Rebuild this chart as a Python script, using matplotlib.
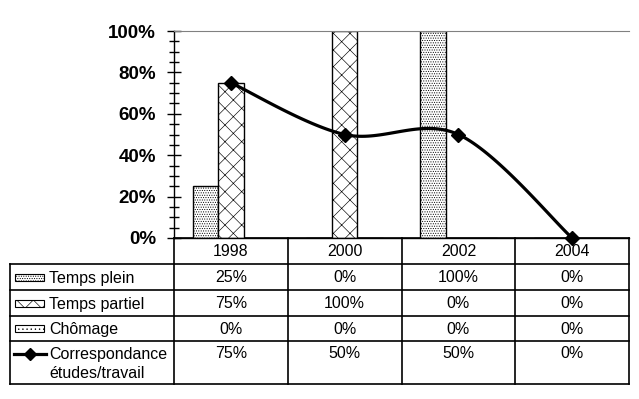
import numpy as np
import matplotlib
matplotlib.use('Agg')
import matplotlib.pyplot as plt
from matplotlib.patches import Rectangle
from matplotlib.ticker import MultipleLocator, PercentFormatter

plt.rcParams['font.family'] = ['Liberation Sans', 'DejaVu Sans']
plt.rcParams['hatch.linewidth'] = 0.45

years = ['1998', '2000', '2002', '2004']
temps_plein = [25, 0, 100, 0]
temps_partiel = [75, 100, 0, 0]
chomage = [0, 0, 0, 0]
correspondance = [75, 50, 50, 0]

series_names = ['Temps plein', 'Temps partiel', 'Chômage']
series_vals = [temps_plein, temps_partiel, chomage]
series_hatch = ['.......', 'xx', '....']
line_name = ['Correspondance', 'études/travail']

W, H = 639, 399
fig = plt.figure(figsize=(W / 100, H / 100), dpi=100)

# pixel geometry
x0, x1 = 174, 629
ytop, ybot = 31, 238
ax = fig.add_axes([x0 / W, 1 - ybot / H, (x1 - x0) / W, (ybot - ytop) / H])

n = len(years)
xs = np.arange(n)
bw = 0.224
for k, (vals, hatch) in enumerate(zip(series_vals, series_hatch)):
    ax.bar(xs + (k - 1) * bw, vals, width=bw, color='white', edgecolor='black',
           hatch=hatch, linewidth=1)

# smoothed line (bezier through the points, Excel style)
P = np.column_stack([xs, correspondance]).astype(float)
cx, cy = [], []
for i in range(n - 1):
    p0 = P[i - 1] if i > 0 else P[i]
    p1, p2 = P[i], P[i + 1]
    p3 = P[i + 2] if i + 2 < n else P[i + 1]
    c1 = p1 + (p2 - p0) / 6
    c2 = p2 - (p3 - p1) / 6
    t = np.linspace(0, 1, 40)[:, None]
    seg = (1 - t) ** 3 * p1 + 3 * t * (1 - t) ** 2 * c1 + 3 * t ** 2 * (1 - t) * c2 + t ** 3 * p2
    cx.extend(seg[:, 0]); cy.extend(seg[:, 1])
ax.plot(cx, cy, color='black', lw=2.3, clip_on=False, zorder=3)
ax.plot(xs, correspondance, ls='none', marker='D', ms=7, color='black',
        clip_on=False, zorder=4)

ax.set_xlim(-0.5, n - 0.5)
ax.set_ylim(0, 100)
ax.yaxis.set_major_locator(MultipleLocator(20))
ax.yaxis.set_minor_locator(MultipleLocator(5))
ax.yaxis.set_major_formatter(PercentFormatter(decimals=0))
ax.tick_params(axis='y', which='major', direction='inout', length=10, width=1,
               labelsize=13.5, pad=8)
ax.tick_params(axis='y', which='minor', direction='inout', length=7, width=1)
for lab in ax.get_yticklabels():
    lab.set_fontweight('bold')
ax.set_xticks([])
ax.spines['right'].set_visible(False)
ax.spines['top'].set_color('#808080')
ax.spines['left'].set_linewidth(1)
ax.spines['bottom'].set_linewidth(1)
ax.patch.set_visible(False)

# data table drawn in pixel coordinates
tb = fig.add_axes([0, 0, 1, 1], zorder=-1)
tb.set_xlim(0, W)
tb.set_ylim(H, 0)
tb.axis('off')

col_edges = np.linspace(x0, x1, n + 1)
row_edges = [238, 264, 290, 316, 341, 384]
xl = 10
lw = 1.2
tb.plot([x0, x1], [row_edges[0]] * 2, color='black', lw=lw)
for y in row_edges[1:]:
    tb.plot([xl, x1], [y, y], color='black', lw=lw)
for x in col_edges:
    tb.plot([x, x], [row_edges[0], row_edges[-1]], color='black', lw=lw)
tb.plot([xl, xl], [row_edges[1], row_edges[-1]], color='black', lw=lw)

fs = 11.5
centers = (col_edges[:-1] + col_edges[1:]) / 2
for c, yr in zip(centers, years):
    tb.text(c, (row_edges[0] + row_edges[1]) / 2 + 1, yr, ha='center', va='center', fontsize=fs)

all_rows = series_vals + [correspondance]
for r, vals in enumerate(all_rows):
    ytxt = (row_edges[r + 1] + row_edges[r + 2]) / 2 + 1 if r < 3 else row_edges[r + 1] + 13
    for c, v in zip(centers, vals):
        tb.text(c, ytxt, f'{v}%', ha='center', va='center', fontsize=fs)

for r, (name, hatch) in enumerate(zip(series_names, series_hatch)):
    ymid = (row_edges[r + 1] + row_edges[r + 2]) / 2
    tb.add_patch(Rectangle((15, ymid - 3.5), 29, 7, facecolor='white', edgecolor='black',
                           hatch=hatch, lw=0.8))
    tb.text(49, ymid + 1, name, ha='left', va='center', fontsize=fs)

yl = row_edges[4] + 13
tb.plot([14, 46], [yl, yl], color='black', lw=2.3)
tb.plot([30], [yl], marker='D', ms=6, color='black')
tb.text(49, yl, line_name[0], ha='left', va='center', fontsize=fs)
tb.text(49, yl + 19, line_name[1], ha='left', va='center', fontsize=fs)

fig.savefig('out.png', dpi=100)
